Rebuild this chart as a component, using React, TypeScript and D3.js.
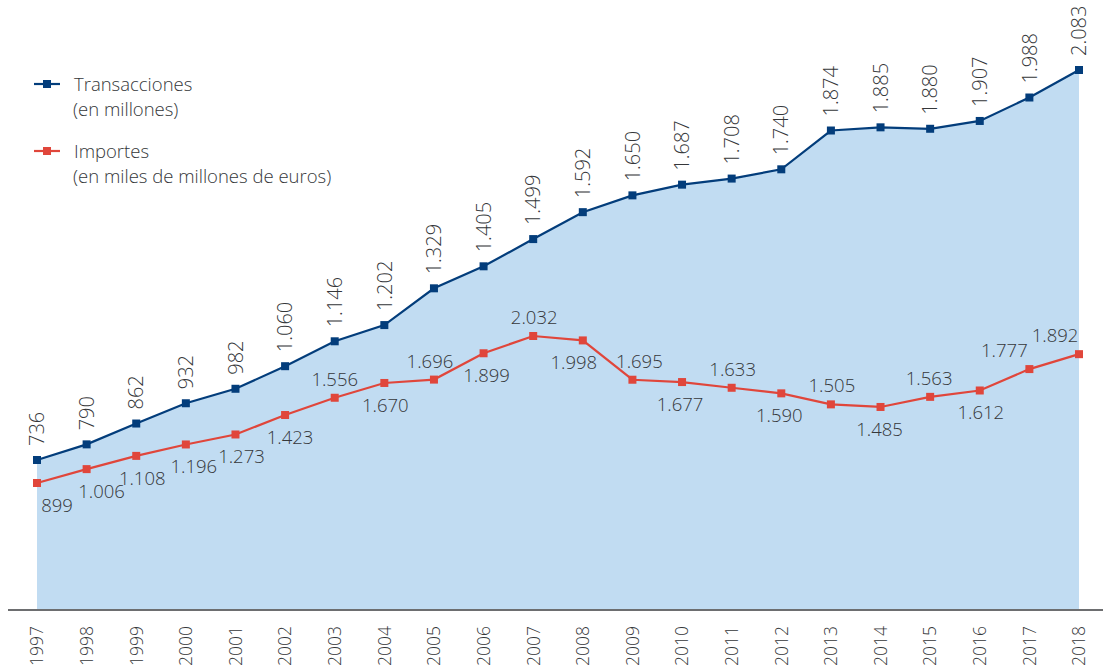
import React from "react";
import * as d3 from "d3";

const years = [1997, 1998, 1999, 2000, 2001, 2002, 2003, 2004, 2005, 2006, 2007, 2008, 2009, 2010, 2011, 2012, 2013, 2014, 2015, 2016, 2017, 2018];
const transacciones = [736, 790, 862, 932, 982, 1060, 1146, 1202, 1329, 1405, 1499, 1592, 1650, 1687, 1708, 1740, 1874, 1885, 1880, 1907, 1988, 2083];
const importes = [899, 1006, 1108, 1196, 1273, 1423, 1556, 1670, 1696, 1899, 2032, 1998, 1695, 1677, 1633, 1590, 1505, 1485, 1563, 1612, 1777, 1892];

// label layout for the Importes series (a = above, b = below) and horizontal nudges
const redPos = ["b", "b", "b", "b", "b", "b", "a", "b", "a", "b", "a", "b", "a", "b", "a", "b", "a", "b", "a", "b", "a", "a"];
const redDx = [20, 15, 6, 8, 6, 5, 0, 1, -4, 3, 1, -9, 7, -2, 1, -2, 1, -1, -1, 1, -25, -24];

const W = 1103;
const H = 671;
const BLUE = "#033d7b";
const RED = "#e0463b";
const FILL = "#c1dcf2";
const TEXT = "#35373a";
const FONT = "'Open Sans', sans-serif";

const fmt = (v: number) => {
  const s = String(v);
  return s.length > 3 ? s.slice(0, s.length - 3) + "." + s.slice(s.length - 3) : s;
};

export default function App() {
  const x = d3.scalePoint<number>().domain(years).range([37, 1079]);
  const yT = d3.scaleLinear().domain([736, 2083]).range([460, 70]);
  const yI = d3.scaleLinear().domain([899, 2032]).range([483, 336]);
  const baseY = 610;

  const tPts = years.map((yr, i) => ({ yr, v: transacciones[i] }));
  const iPts = years.map((yr, i) => ({ yr, v: importes[i] }));

  const area = d3
    .area<{ yr: number; v: number }>()
    .x((d) => x(d.yr)!)
    .y0(baseY)
    .y1((d) => yT(d.v));
  const lineT = d3
    .line<{ yr: number; v: number }>()
    .x((d) => x(d.yr)!)
    .y((d) => yT(d.v));
  const lineI = d3
    .line<{ yr: number; v: number }>()
    .x((d) => x(d.yr)!)
    .y((d) => yI(d.v));

  const ms = 8;

  return (
    <svg
      width={W}
      height={H}
      style={{ position: "absolute", left: 0, top: 0, display: "block", background: "#fff" }}
      fontFamily={FONT}
    >
      <path d={area(tPts)!} fill={FILL} />
      <line x1={8} x2={W} y1={baseY} y2={baseY} stroke="#6d6e70" strokeWidth={1.8} />

      {/* Transacciones line */}
      <path d={lineT(tPts)!} fill="none" stroke={BLUE} strokeWidth={2.2} />
      {tPts.map((d) => (
        <rect key={"t" + d.yr} x={x(d.yr)! - ms / 2} y={yT(d.v) - ms / 2} width={ms} height={ms} fill={BLUE} />
      ))}
      {tPts.map((d) => (
        <text
          key={"tl" + d.yr}
          transform={`translate(${x(d.yr)},${yT(d.v) - 14}) rotate(-90)`}
          dy="0.36em"
          fontSize={20}
          fontWeight={300}
          fill={TEXT}
          textAnchor="start"
        >
          {fmt(d.v)}
        </text>
      ))}

      {/* Importes line */}
      <path d={lineI(iPts)!} fill="none" stroke={RED} strokeWidth={2.2} />
      {iPts.map((d) => (
        <rect key={"i" + d.yr} x={x(d.yr)! - ms / 2} y={yI(d.v) - ms / 2} width={ms} height={ms} fill={RED} />
      ))}
      {iPts.map((d, i) => (
        <text
          key={"il" + d.yr}
          x={x(d.yr)! + redDx[i]}
          y={yI(d.v) + (redPos[i] === "a" ? -12 : 29)}
          fontSize={18.5}
          fontWeight={300}
          fill={TEXT}
          textAnchor="middle"
        >
          {fmt(d.v)}
        </text>
      ))}

      {/* Year labels */}
      {years.map((yr) => (
        <text
          key={"y" + yr}
          transform={`translate(${x(yr)},${626}) rotate(-90)`}
          dy="0.36em"
          fontSize={17.5}
          fontWeight={300}
          fill={TEXT}
          textAnchor="end"
        >
          {yr}
        </text>
      ))}

      {/* Legend */}
      <g>
        <line x1={34} x2={60} y1={84} y2={84} stroke={BLUE} strokeWidth={2.2} />
        <rect x={47 - ms / 2} y={84 - ms / 2} width={ms} height={ms} fill={BLUE} />
        <text x={74} y={91} fontSize={18.5} fontWeight={300} fill={TEXT}>
          Transacciones
        </text>
        <text x={73} y={116} fontSize={18.5} fontWeight={300} fill={TEXT}>
          (en millones)
        </text>
        <line x1={34} x2={60} y1={151} y2={151} stroke={RED} strokeWidth={2.2} />
        <rect x={47 - ms / 2} y={151 - ms / 2} width={ms} height={ms} fill={RED} />
        <text x={74} y={158} fontSize={18.5} fontWeight={300} fill={TEXT}>
          Importes
        </text>
        <text x={73} y={183} fontSize={18.5} fontWeight={300} fill={TEXT}>
          (en miles de millones de euros)
        </text>
      </g>
    </svg>
  );
}
